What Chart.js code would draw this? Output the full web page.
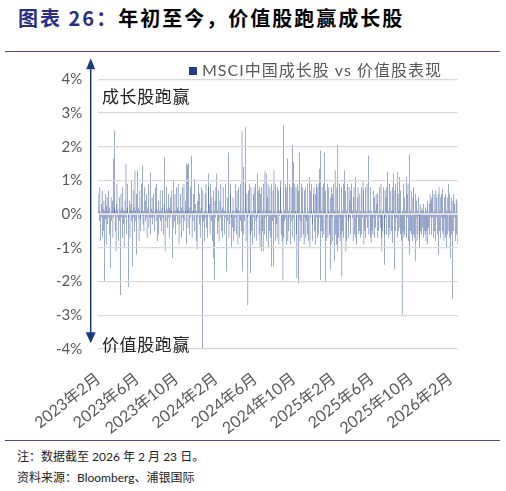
<!DOCTYPE html>
<html>
<head>
<meta charset="utf-8">
<script src="https://cdn.jsdelivr.net/npm/chart.js@4.4.1/dist/chart.umd.min.js"></script>
<style>
body{margin:0;width:506px;height:491px;position:relative;background:#fff;overflow:hidden;font-family:"Noto Sans CJK SC",sans-serif}
#title{position:absolute;left:18px;top:5px;font-size:20px;line-height:26px;font-weight:bold;color:#000;letter-spacing:2px;white-space:nowrap}
#title .num{color:#2b2e83}
.rule{position:absolute;left:5px;width:495px;height:1px;background:#4b4b8f}
#chartBox{position:absolute;left:0;top:0;width:506px;height:440px}
#chartBox canvas{display:block}
#legend{position:absolute;left:189px;top:59px;font-size:16px;line-height:21px;color:#595959;letter-spacing:1px;white-space:nowrap;font-family:Lato,"Noto Sans CJK SC",sans-serif}
#legend .box{display:inline-block;width:8px;height:8px;background:#1f3c88;margin-right:5px;vertical-align:1px}
.tag{position:absolute;left:102px;font-size:17px;line-height:20px;color:#222;letter-spacing:0.6px;white-space:nowrap}
.note{position:absolute;left:17px;font-size:12px;line-height:16px;color:#222;white-space:nowrap;font-family:Lato,"Noto Sans CJK SC",sans-serif}
</style>
</head>
<body>
<div id="title"><span class="num">图表 26：</span>年初至今，价值股跑赢成长股</div>
<div class="rule" style="top:51px"></div>
<div id="chartBox"><canvas id="spreadChart" width="506" height="440"></canvas></div>
<div id="legend"><span class="box"></span>MSCI中国成长股 vs 价值股表现</div>
<div class="tag" style="top:86px">成长股跑赢</div>
<div class="tag" style="top:334px">价值股跑赢</div>
<div class="rule" style="top:440px"></div>
<div class="note" style="top:449px">注：数据截至 2026 年 2 月 23 日。</div>
<div class="note" style="top:470px">资料来源：Bloomberg、浦银国际</div>
<script>
// daily return gap, growth minus value (%), one value per trading day from 2023-02-01
const startDate = '2023-02-01';
const seriesName = 'MSCI中国成长股 vs 价值股表现';
const tickLabels = ['2023年2月','2023年6月','2023年10月','2024年2月','2024年6月','2024年10月','2025年2月','2025年6月','2025年10月','2026年2月'];
const yTicks = [-4,-3,-2,-1,0,1,2,3,4];
const spread = [
  0.6,0.1,-0.2,0.8,0.05,-0.8,0.3,-0.1,0.7,-0.7,0.15,-0.5,0.4,-2.0,0.1,0.6,-0.15,-0.9,0.25,0.5,
  -0.3,0.1,0.7,-0.1,-0.6,0.2,-1.6,0.05,0.5,-0.2,0.1,0.4,-0.7,1.65,-0.1,2.48,0.2,-0.5,0.1,-1.1,
  0.3,0.9,-0.1,0.15,-0.8,0.05,0.5,-0.2,0.1,-2.4,0.6,-0.1,0.2,-0.7,0.8,0.1,-0.3,-1.0,0.1,0.4,
  -0.1,1.49,-0.6,0.1,0.2,0.9,-0.1,-2.15,0.05,0.4,-0.7,0.1,0.3,1.0,-0.2,0.1,-1.55,0.7,-0.1,0.2,
  -0.5,1.29,0.1,-0.2,0.6,-1.2,0.05,1.3,-0.1,0.2,-0.8,0.1,0.7,-0.15,-0.5,0.1,0.9,-0.05,1.44,-0.3,
  0.1,-0.5,0.8,0.05,-0.2,0.4,-0.1,0.6,-0.7,0.1,0.2,0.9,-0.4,0.05,-0.1,1.24,-0.6,0.15,-0.1,0.5,
  -0.3,0.1,0.6,-0.1,0.05,-0.5,0.8,0.1,-0.2,0.9,0.15,-0.8,0.05,0.4,-0.6,0.1,-0.1,0.7,-0.2,0.1,
  -0.5,0.2,0.7,-0.1,-0.6,0.05,0.3,1.68,-1.1,0.1,-0.2,0.8,0.05,-0.4,0.15,0.6,-0.1,-0.7,0.2,0.1,
  0.5,-0.1,0.1,0.7,-1.3,0.05,-0.4,1.0,0.1,-0.2,0.6,-0.6,0.1,0.8,-0.05,-0.3,0.2,0.9,0.1,-0.9,
  0.1,-0.3,0.6,0.05,-0.7,0.2,0.8,-0.1,0.1,-0.5,0.9,0.05,-0.2,0.4,0.1,1.5,-0.9,0.1,1.45,-0.4,
  1.5,0.1,-0.6,0.2,0.8,-0.1,0.05,1.72,-0.7,0.1,-0.2,0.6,0.1,1.05,-0.5,0.05,0.3,-0.8,0.1,-1.05,
  0.4,-0.1,0.9,0.05,-0.3,0.6,-0.7,0.1,0.2,0.8,-0.1,-4.0,0.7,0.05,-0.2,-0.8,0.1,0.6,-0.1,0.9,
  -0.4,0.1,-0.7,0.05,0.8,1.2,-0.1,0.3,-0.6,0.9,0.1,-0.2,0.5,-0.8,0.05,0.7,-1.3,0.1,-1.95,0.4,
  -0.1,0.8,0.05,1.2,-0.6,0.1,-0.2,0.7,-0.8,0.05,0.4,-0.1,0.9,0.1,-0.5,-0.7,0.2,0.8,-0.05,0.1,
  -0.6,0.1,0.9,-0.1,0.05,-1.7,0.5,-0.2,0.1,1.83,-0.7,0.05,-0.3,0.6,0.9,-0.1,-1.0,0.1,-0.4,0.5,
  -0.8,0.1,0.05,-0.5,0.9,-0.1,0.2,-0.6,0.7,0.1,-0.9,0.8,-0.05,0.1,-0.7,0.9,-0.2,0.05,-0.5,2.46,
  -1.7,0.1,1.4,-0.6,0.05,-0.2,0.9,2.58,-0.8,0.1,0.6,-0.1,-2.7,0.7,-0.05,0.9,0.1,-0.6,-1.75,0.8,
  -0.5,0.1,-0.9,0.05,0.6,-0.1,0.8,-0.7,0.1,0.9,-0.2,0.05,-0.8,1.2,-0.1,0.7,0.1,-0.6,0.8,-1.0,
  0.6,0.05,-1.1,0.8,0.1,-0.5,-1.1,0.9,0.05,-0.6,1.27,-0.1,0.1,1.2,-0.8,0.5,-0.05,0.9,-1.0,0.1,
  -0.5,0.8,0.1,-0.7,0.9,-1.55,0.05,-0.2,0.7,-1.55,1.3,-0.1,0.1,-0.8,0.9,0.05,-0.3,-0.7,0.8,0.1,
  0.7,-0.9,0.1,-0.05,0.8,1.0,-0.6,0.1,-0.8,0.05,-1.97,2.63,-0.7,0.1,-0.2,0.9,-0.1,0.8,-0.9,0.05,
  1.65,-0.8,0.1,-0.5,0.9,-0.1,0.05,-0.9,0.8,0.1,-0.2,2.06,-0.7,1.55,-0.1,0.9,-0.8,0.05,0.1,0.8,
  -0.6,-1.9,0.9,0.1,-2.05,0.7,-0.1,1.82,-0.8,0.05,-0.2,0.9,-0.7,0.1,0.8,-0.6,0.05,-0.9,0.7,-0.1,
  0.8,-0.7,0.05,-0.2,0.9,-0.6,0.1,-0.8,0.05,1.1,-1.0,0.7,-0.1,0.9,0.1,-0.3,-0.8,0.05,0.6,0.8,
  -0.5,0.1,-0.9,0.6,0.9,-0.1,0.8,-0.7,0.05,-0.6,0.9,1.35,-0.1,1.88,-1.95,0.1,-0.5,0.8,-0.7,0.05,
  0.9,-0.6,1.82,0.1,-2.03,0.7,-0.8,0.05,-0.1,0.9,-0.7,0.1,0.8,-0.6,0.05,-1.65,0.5,-0.9,0.8,-0.1,
  0.6,-0.8,0.9,0.05,-1.4,0.1,1.3,-0.6,0.05,-0.9,0.8,-1.1,2.06,-0.7,0.1,-0.1,0.9,-0.8,0.05,-0.6,
  0.8,-1.85,0.1,-0.5,0.9,-0.7,0.05,1.3,-0.1,0.7,-1.1,0.1,-0.8,0.9,0.05,-0.2,-0.7,0.8,-0.1,0.4,
  -0.6,0.7,0.05,0.9,-0.1,0.1,-0.8,0.5,0.8,-0.6,0.05,1.1,-0.7,0.1,-0.9,0.5,-0.1,0.8,-0.6,0.05,
  -0.5,0.6,-0.7,0.1,0.8,-0.6,0.05,-0.1,1.0,0.7,-0.9,0.1,-0.5,0.8,-0.7,0.05,-0.1,0.9,-0.4,0.1,
  1.74,-0.6,0.1,-0.05,0.8,-0.7,-0.85,0.1,-0.5,0.05,-0.6,0.7,-0.1,0.5,-0.7,0.1,-0.4,0.6,-0.05,0.3,
  0.6,-0.7,0.05,-0.5,0.8,-0.1,0.1,-0.4,0.9,-0.7,-1.1,0.1,-0.5,0.8,0.05,-0.6,-1.5,0.7,-0.1,0.5,
  -0.6,0.8,0.05,1.25,-0.7,0.1,-0.4,0.9,-0.6,0.05,0.7,-0.5,0.1,0.8,-0.85,0.1,1.2,-0.05,-1.65,0.7,
  -0.5,0.9,-0.1,0.05,1.25,-0.7,0.6,-0.5,0.1,1.1,-0.4,0.7,-0.6,0.05,-0.8,-3.0,0.1,-0.5,0.9,-0.7,
  0.5,-0.6,0.1,-0.05,1.1,-0.7,0.6,-0.1,0.9,-0.8,0.05,1.77,-1.2,0.1,-0.5,0.7,-0.6,0.05,-0.8,0.5,
  0.8,-0.6,0.05,-0.7,-1.4,0.6,-0.1,0.4,-0.8,0.1,-0.6,0.5,-0.05,-1.0,-0.7,0.3,-0.5,0.1,-0.6,0.2,
  -0.4,0.1,-0.7,0.3,-0.5,0.05,-0.6,0.2,-0.8,0.1,-0.5,0.4,-0.9,0.05,-0.4,0.3,-0.6,0.6,-0.1,0.4,
  -0.6,0.5,-0.1,0.7,-0.7,0.05,0.6,-0.5,0.1,-0.8,0.7,-0.1,0.5,-0.6,0.05,0.6,-1.2,0.8,-0.5,0.1,
  -0.7,0.5,-0.1,0.6,-0.5,0.75,-0.6,0.05,-0.8,0.5,-0.1,0.6,-0.7,0.1,-1.0,0.5,-0.6,0.05,0.9,-0.5,
  0.6,-0.7,0.1,-1.3,0.5,-0.6,0.05,-2.5,0.4,-0.5,0.6,-0.1,0.3,-0.8,0.05,0.45,-0.6,0.4,-0.9
];

// trading-day dates (weekdays) for each value
function buildDates(start, n){
    const out = [];
    const d = new Date(start + 'T00:00:00Z');
    while(out.length < n){
        const wd = d.getUTCDay();
        if(wd !== 0 && wd !== 6){
            out.push(new Date(d.getTime()));
        }
        d.setUTCDate(d.getUTCDate() + 1);
    }
    return out;
}
const dates = buildDates(startDate, spread.length);
const categories = dates.map(d => d.getUTCFullYear() + '-' + (d.getUTCMonth() + 1) + '-' + d.getUTCDate());

// first trading day of each labelled month gets the label
const tickAt = {};
for(let i = 0; i < dates.length; i++){
    const key = dates[i].getUTCFullYear() + '年' + (dates[i].getUTCMonth() + 1) + '月';
    if(tickLabels.includes(key) && !Object.values(tickAt).includes(key)){
        tickAt[i] = key;
    }
}

const arrowPlugin = {
    id: 'arrow',
    afterDraw: function(chart){
        const c = chart.ctx, a = chart.chartArea;
        const x = a.left - 7.6;
        const top = a.top - 21, bottom = a.bottom - 5.7;
        c.save();
        c.strokeStyle = '#1a3a80';
        c.fillStyle = '#1a3a80';
        c.lineWidth = 1.5;
        c.beginPath();
        c.moveTo(x, top + 8);
        c.lineTo(x, bottom - 8);
        c.stroke();
        c.beginPath();
        c.moveTo(x, top);
        c.lineTo(x - 4.5, top + 11);
        c.lineTo(x + 4.5, top + 11);
        c.closePath();
        c.fill();
        c.beginPath();
        c.moveTo(x, bottom);
        c.lineTo(x - 5, bottom - 11);
        c.lineTo(x + 5, bottom - 11);
        c.closePath();
        c.fill();
        c.restore();
    }
};

const ctx = document.getElementById('spreadChart').getContext('2d');
new Chart(ctx, {
    type: 'bar',
    data: {
        labels: categories,
        datasets: [{
            label: seriesName,
            data: spread,
            backgroundColor: '#24448f',
            borderWidth: 0,
            inflateAmount: 0,
            barPercentage: 1,
            categoryPercentage: 1
        }]
    },
    options: {
        responsive: false,
        animation: false,
        layout: { padding: { top: 79.3, left: 0, right: 48.3, bottom: 0 } },
        plugins: { legend: { display: false }, tooltip: { enabled: false } },
        scales: {
            x: {
                grid: { display: false },
                border: { display: false },
                ticks: {
                    autoSkip: false,
                    minRotation: 38,
                    maxRotation: 38,
                    padding: 12,
                    color: '#595959',
                    font: { family: 'Lato, "Noto Sans CJK SC"', size: 16 },
                    callback: function(v, i){ return tickAt[i] !== undefined ? tickAt[i] : null; }
                },
                afterFit: function(s){ s.height = 91; }
            },
            y: {
                min: yTicks[0],
                max: yTicks[yTicks.length - 1],
                afterBuildTicks: function(s){ s.ticks = yTicks.map(v => ({ value: v })); },
                grid: { color: '#d9d9d9', lineWidth: 1.3, drawTicks: false, z: 1 },
                border: { display: false },
                ticks: {
                    padding: 16,
                    color: '#595959',
                    font: { family: 'Lato', size: 15 },
                    callback: function(v){ return v + '%'; }
                },
                afterFit: function(s){ s.width = 98.3; }
            }
        }
    },
    plugins: [arrowPlugin]
});
</script>
</body>
</html>
